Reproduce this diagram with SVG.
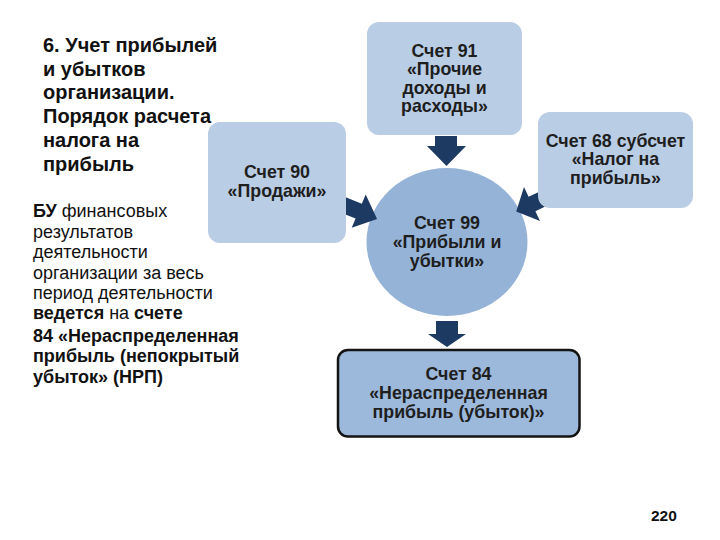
<svg xmlns="http://www.w3.org/2000/svg" width="720" height="540" viewBox="0 0 720 540">
<style>
.box{fill:#b9cde5;}
.circ{fill:#95b3d7;}
.res{fill:#9cb8da;stroke:#141414;stroke-width:2.5;}
.arr{fill:#1d3a62;}
.nt{font-family:"Liberation Sans",Arial,sans-serif;font-weight:bold;font-size:17.8px;fill:#1e1e1e;text-anchor:middle;}
.title{font-family:"Liberation Sans",Arial,sans-serif;font-weight:bold;font-size:20px;fill:#111;}
.body{font-family:"Liberation Sans",Arial,sans-serif;font-size:18px;fill:#111;}
.b{font-weight:bold;}
.num{font-family:"Liberation Sans",Arial,sans-serif;font-weight:bold;font-size:15.5px;fill:#111;}
</style>
<rect width="720" height="540" fill="#ffffff"/>

<g id="title">
<text class="title" x="43" y="52">6. Учет прибылей</text>
<text class="title" x="43" y="75.7">и убытков</text>
<text class="title" x="43" y="99.4">организации.</text>
<text class="title" x="43" y="123">Порядок расчета</text>
<text class="title" x="43" y="146.8">налога на</text>
<text class="title" x="43" y="170.5">прибыль</text>
</g>

<g id="body">
<text class="body" x="33" y="217"><tspan class="b">БУ</tspan> финансовых</text>
<text class="body" x="33" y="237.5">результатов</text>
<text class="body" x="33" y="258">деятельности</text>
<text class="body" x="33" y="278.5">организации за весь</text>
<text class="body" x="33" y="299">период деятельности</text>
<text class="body" x="33" y="319"><tspan class="b">ведется</tspan> на <tspan class="b">счете</tspan></text>
<text class="body b" x="33" y="341.5">84 «Нераспределенная</text>
<text class="body b" x="33" y="362">прибыль (непокрытый</text>
<text class="body b" x="33" y="382.5">убыток» (НРП)</text>
</g>

<g id="node-99">
<ellipse class="circ" cx="447" cy="242" rx="80.5" ry="74"/>
<text class="nt" x="447" y="229">Счет 99</text>
<text class="nt" x="447" y="248">«Прибыли и</text>
<text class="nt" x="447" y="267">убытки»</text>
</g>

<g id="connectors">
<polygon class="arr" points="435,136 457,136 457,146 466,146 446.5,166 427,146 435,146"/>
<polygon class="arr" points="343.9,196.6 361.8,203.8 365.7,194.6 377.1,219 351.7,227.8 355.6,218.6 337.7,211.4"/>
<polygon class="arr" points="539.4,191.7 528.6,196.8 524,187 516.2,211.4 540,221 535.4,211.2 546.2,206.1"/>
<polygon class="arr" points="436,321 458,321 458,334 466,334 447,347 428,334 436,334"/>
</g>

<g id="node-91">
<rect class="box" x="367" y="22" width="155" height="113" rx="12"/>
<text class="nt" x="444.5" y="56.5">Счет 91</text>
<text class="nt" x="444.5" y="75">«Прочие</text>
<text class="nt" x="444.5" y="93.5">доходы и</text>
<text class="nt" x="444.5" y="112">расходы»</text>
</g>

<g id="node-90">
<rect class="box" x="208" y="122" width="138" height="121" rx="12"/>
<text class="nt" x="277" y="178">Счет 90</text>
<text class="nt" x="277" y="197">«Продажи»</text>
</g>

<g id="node-68">
<rect class="box" x="538" y="112" width="155" height="96" rx="12"/>
<text class="nt" x="615.5" y="146.5">Счет 68 субсчет</text>
<text class="nt" x="615.5" y="165">«Налог на</text>
<text class="nt" x="615.5" y="183.5">прибыль»</text>
</g>

<g id="node-84">
<rect class="res" x="338" y="350" width="241.5" height="86.5" rx="10"/>
<text class="nt" x="458.5" y="380">Счет 84</text>
<text class="nt" x="458.5" y="399">«Нераспределенная</text>
<text class="nt" x="458.5" y="417.5">прибыль (убыток)»</text>
</g>

<text class="num" x="651" y="521">220</text>
</svg>
